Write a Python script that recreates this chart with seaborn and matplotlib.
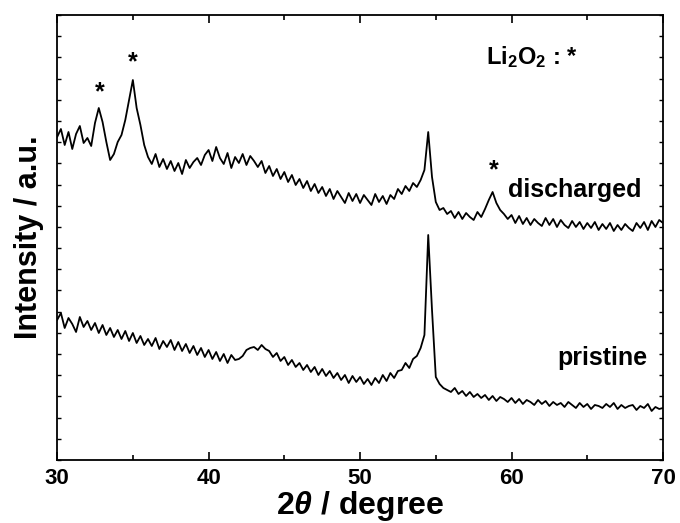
import numpy as np
import pandas as pd
import seaborn as sns
import matplotlib.pyplot as plt
from matplotlib.ticker import MultipleLocator

# 2theta grid, 0.25 degree step from 30 to 70
two_theta = np.arange(30.0, 70.01, 0.25)

# intensity (arbitrary units), one row = 2 degrees
discharged = [
    323, 331, 315, 328, 311, 326, 334, 317,
    322, 314, 337, 352, 338, 318, 300, 306,
    318, 325, 340, 360, 380, 352, 335, 315,
    303, 296, 306, 293, 301, 291, 299, 289,
    297, 286, 300, 292, 298, 302, 295, 305,
    310, 299, 313, 302, 296, 307, 292, 303,
    297, 306, 295, 304, 299, 293, 299, 287,
    294, 284, 291, 281, 288, 278, 285, 275,
    281, 272, 279, 269, 276, 267, 273, 264,
    271, 261, 269, 263, 257, 267, 259, 266,
    257, 265, 260, 255, 266, 258, 264, 256,
    265, 261, 271, 266, 274, 269, 277, 273,
    280, 290, 328, 283, 258, 250, 252, 246,
    249, 242, 248, 241, 247, 243, 240, 248,
    243, 251, 260, 268, 257, 250, 246, 241,
    245, 237, 244, 236, 242, 235, 241, 237,
    234, 242, 235, 241, 233, 240, 235, 232,
    239, 233, 238, 231, 237, 232, 238, 230,
    236, 231, 237, 229, 235, 230, 236, 232,
    229, 237, 232, 238, 230, 239, 233, 240,
    237,
]

pristine = [
    140, 147, 132, 142, 136, 128, 143, 133,
    139, 130, 137, 127, 135, 125, 132, 123,
    130, 121, 129, 119, 127, 117, 124, 115,
    121, 114, 122, 111, 119, 113, 120, 110,
    118, 109, 116, 107, 114, 105, 112, 103,
    110, 101, 108, 99, 106, 97, 105, 100,
    101, 104, 110, 112, 113, 110, 115, 111,
    109, 103, 107, 99, 103, 95, 100, 93,
    97, 90, 95, 88, 93, 85, 91, 84,
    89, 82, 87, 80, 85, 77, 84, 78,
    83, 76, 81, 75, 82, 77, 85, 79,
    87, 82, 89, 90, 97, 92, 101, 104,
    112, 125, 225, 150, 83, 76, 72, 70,
    68, 72, 66, 69, 64, 68, 63, 66,
    62, 65, 60, 64, 59, 63, 61, 58,
    62, 57, 61, 56, 60, 58, 55, 60,
    56, 59, 54, 58, 55, 57, 53, 58,
    55, 52, 57, 53, 56, 51, 55, 54,
    52, 56, 53, 57, 51, 55, 52, 54,
    55, 50, 54, 52, 56, 49, 53, 51,
    52,
]

# Li2O2 peaks marked with *
star_x = [32.8, 35.0, 58.8]
star_y = [368, 398, 290]

df = pd.DataFrame({'2theta': two_theta, 'discharged': discharged, 'pristine': pristine})

sns.set_style('ticks', {'axes.edgecolor': 'black', 'text.color': 'black',
                        'xtick.color': 'black', 'ytick.color': 'black',
                        'axes.labelcolor': 'black'})
plt.rcParams['font.family'] = ['Liberation Sans', 'DejaVu Sans']
plt.rcParams['font.weight'] = 'bold'
plt.rcParams['mathtext.fontset'] = 'custom'
plt.rcParams['mathtext.rm'] = 'Liberation Sans:bold'
plt.rcParams['mathtext.it'] = 'Liberation Sans:bold:italic'
plt.rcParams['mathtext.bf'] = 'Liberation Sans:bold'
plt.rcParams['mathtext.default'] = 'regular'

fig = plt.figure(figsize=(6.8, 5.23), dpi=100)
ax = fig.add_axes([0.084, 0.1205, 0.891, 0.8508])

sns.lineplot(data=df, x='2theta', y='discharged', color='black', lw=1.3, ax=ax)
sns.lineplot(data=df, x='2theta', y='pristine', color='black', lw=1.3, ax=ax)

for sx, sy in zip(star_x, star_y):
    ax.text(sx, sy, '*', ha='center', va='center', fontsize=18, fontweight='bold')

ax.text(68.6, 270, 'discharged', ha='right', va='center', fontsize=18, fontweight='bold')
ax.text(69.0, 102, 'pristine', ha='right', va='center', fontsize=18, fontweight='bold')
ax.text(58.3, 403, 'Li$_2$O$_2$ : *', ha='left', va='center', fontsize=17, fontweight='bold')

ax.set_xlim(30, 70)
ax.set_ylim(0, 445)
ax.xaxis.set_major_locator(MultipleLocator(10))
ax.xaxis.set_minor_locator(MultipleLocator(5))
ax.yaxis.set_major_locator(MultipleLocator(445 / 21))
ax.set_yticklabels([])
ax.tick_params(axis='x', which='major', direction='in', length=6, width=1.2,
               top=True, labelsize=16, pad=6)
ax.tick_params(axis='x', which='minor', direction='in', length=3.5, width=1.2, top=True)
ax.tick_params(axis='y', which='major', direction='in', length=3, width=1.0,
               right=True, left=True)
for lab in ax.get_xticklabels():
    lab.set_fontweight('bold')
for sp in ax.spines.values():
    sp.set_linewidth(1.3)
    sp.set_visible(True)

ax.set_xlabel(r'2$\mathit{\theta}$ / degree', fontsize=23, fontweight='bold', labelpad=0)
ax.set_ylabel('Intensity / a.u.', fontsize=22, fontweight='bold', labelpad=6)

fig.savefig('out.png', dpi=100)
